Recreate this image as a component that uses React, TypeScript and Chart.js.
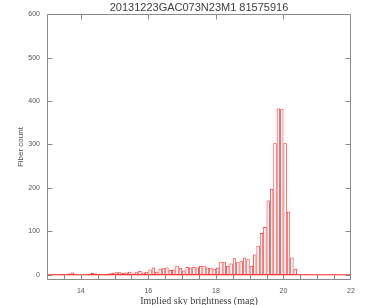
import React, { useEffect, useRef } from "react";
import { Chart, registerables } from "chart.js";

Chart.register(...registerables);

// Histogram bins (left edge, mag) and fiber counts per bin
const magBins = [
  13.2, 13.3, 13.4, 13.5, 13.6, 13.7, 13.8, 13.9,
  14.0, 14.1, 14.2, 14.3, 14.4, 14.5, 14.6, 14.7, 14.8, 14.9,
  15.0, 15.1, 15.2, 15.3, 15.4, 15.5, 15.6, 15.7, 15.8, 15.9,
  16.0, 16.1, 16.2, 16.3, 16.4, 16.5, 16.6, 16.7, 16.8, 16.9,
  17.0, 17.1, 17.2, 17.3, 17.4, 17.5, 17.6, 17.7, 17.8, 17.9,
  18.0, 18.1, 18.2, 18.3, 18.4, 18.5, 18.6, 18.7, 18.8, 18.9,
  19.0, 19.1, 19.2, 19.3, 19.4, 19.5, 19.6, 19.7, 19.8, 19.9,
  20.0, 20.1, 20.2, 20.3, 20.4, 20.5, 20.6,
];
const fiberCounts = [
  1, 1, 2, 1, 3, 5, 1, 1,
  0, 0, 2, 4, 3, 2, 1, 2, 3, 4,
  6, 6, 4, 5, 7, 3, 6, 9, 5, 7,
  12, 17, 7, 14, 15, 17, 11, 12, 21, 16,
  10, 18, 17, 18, 17, 20, 21, 17, 16, 14,
  17, 30, 29, 21, 26, 38, 29, 31, 40, 36,
  21, 47, 67, 96, 110, 171, 198, 303, 383, 381,
  303, 145, 40, 14, 1, 0, 1,
];
const binWidth = 0.1;

const xTickValues = [14, 16, 18, 20, 22];
const yTickValues = [0, 100, 200, 300, 400, 500, 600];
const xRange = [13, 22];
const yRange = [-12, 600];

const titleText = "20131223GAC073N23M1 81575916";
const xTitleText = "Implied sky brightness (mag)";
const yTitleText = "Fiber count";

const AXIS_COLOR = "#8a8a8a";
const LABEL_COLOR = "#555555";
const HIST_COLOR = "rgba(255, 10, 10, 0.9)";

const framePlugin = {
  id: "frame",
  afterDraw(chart: any) {
    const { ctx, chartArea: a, scales } = chart;
    const xs = scales.x;
    const ys = scales.y;
    ctx.save();
    ctx.strokeStyle = AXIS_COLOR;
    ctx.lineWidth = 1;
    const L = Math.round(a.left) + 0.5;
    const R = Math.round(a.right) - 0.5;
    const T = Math.round(a.top) + 0.5;
    const B = Math.round(a.bottom) - 0.5;
    ctx.beginPath();
    ctx.rect(L, T, R - L, B - T);
    ctx.stroke();
    ctx.beginPath();
    // bottom ticks every 0.5 mag, top ticks at major values
    for (let v = xRange[0] + 0.5; v < xRange[1]; v += 0.5) {
      const px = Math.round(xs.getPixelForValue(v)) + 0.5;
      ctx.moveTo(px, B);
      ctx.lineTo(px, B - 5);
    }
    for (const v of xTickValues) {
      if (v >= xRange[1]) continue;
      const px = Math.round(xs.getPixelForValue(v)) + 0.5;
      ctx.moveTo(px, T);
      ctx.lineTo(px, T + 5);
    }
    for (const v of yTickValues) {
      if (v >= yRange[1]) continue;
      const py = Math.round(ys.getPixelForValue(v)) + 0.5;
      ctx.moveTo(L, py);
      ctx.lineTo(L + 5, py);
      ctx.moveTo(R, py);
      ctx.lineTo(R - 5, py);
    }
    ctx.stroke();
    ctx.restore();
  },
};

export default function App() {
  const canvasRef = useRef<HTMLCanvasElement | null>(null);

  useEffect(() => {
    const canvas = canvasRef.current;
    if (!canvas) return;
    const barData = magBins.map((m, i) => ({ x: m + binWidth / 2, y: fiberCounts[i] }));
    const chart = new Chart(canvas, {
      type: "bar",
      data: {
        datasets: [
          {
            type: "line",
            data: [
              { x: xRange[0], y: 0 },
              { x: xRange[1], y: 0 },
            ],
            borderColor: HIST_COLOR,
            borderWidth: 1,
            pointRadius: 0,
            order: 2,
          } as any,
          {
            type: "bar",
            data: barData as any,
            backgroundColor: "rgba(0,0,0,0)",
            borderColor: HIST_COLOR,
            borderWidth: 0.75,
            inflateAmount: 0,
            borderSkipped: false,
            barPercentage: 1,
            categoryPercentage: 1,
            grouped: false,
            order: 1,
          } as any,
        ],
      },
      options: {
        animation: false,
        responsive: false,
        devicePixelRatio: 1,
        layout: { padding: { top: 0, right: 14, left: 0, bottom: 0 } },
        plugins: {
          legend: { display: false },
          tooltip: { enabled: false },
          title: {
            display: true,
            fullSize: false,
            text: titleText,
            color: "#404040",
            font: { family: "Liberation Sans", size: 11, weight: "normal", lineHeight: 1.2 },
            padding: { top: 1, bottom: 0 },
          },
        },
        scales: {
          x: {
            type: "linear",
            min: xRange[0],
            max: xRange[1],
            offset: false,
            grid: { display: false, drawTicks: false, offset: false },
            border: { display: false },
            afterBuildTicks: (scale: any) => {
              scale.ticks = xTickValues.map((v) => ({ value: v }));
            },
            afterFit: (scale: any) => {
              scale.height = 25;
            },
            ticks: {
              color: LABEL_COLOR,
              padding: 7,
              maxRotation: 0,
              autoSkip: false,
              font: { family: "Liberation Sans", size: 7 },
            },
            title: {
              display: true,
              text: xTitleText,
              color: "#404040",
              font: { family: "Liberation Serif", size: 10, lineHeight: 0.8 },
              padding: { top: 0, bottom: 0 },
            },
          },
          y: {
            type: "linear",
            min: yRange[0],
            max: yRange[1],
            grid: { display: false, drawTicks: false },
            border: { display: false },
            afterBuildTicks: (scale: any) => {
              scale.ticks = yTickValues.map((v) => ({ value: v }));
            },
            afterFit: (scale: any) => {
              scale.width = 47;
            },
            ticks: {
              color: LABEL_COLOR,
              padding: 7,
              autoSkip: false,
              font: { family: "Liberation Sans", size: 7 },
            },
            title: {
              display: true,
              text: yTitleText,
              color: "#505050",
              font: { family: "Liberation Sans", size: 8, lineHeight: 1.2 },
              padding: { top: 16, bottom: 0 },
            },
          },
        },
      },
      plugins: [framePlugin],
    });
    return () => chart.destroy();
  }, []);

  return (
    <div style={{ position: "absolute", left: 0, top: 0, width: 365, height: 305, background: "#fff" }}>
      <canvas ref={canvasRef} width={365} height={305} />
    </div>
  );
}
